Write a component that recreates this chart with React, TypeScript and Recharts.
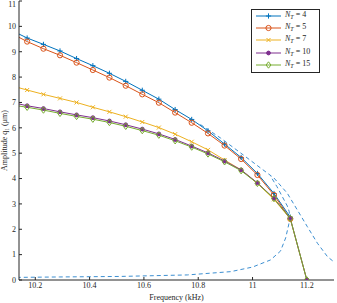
import React from "react";
import { Legend, Line, LineChart, XAxis, YAxis } from "recharts";

// marker frequencies (kHz), one every ~0.0606 kHz, last one sits at 11.2
const freqs = [
  10.109, 10.17, 10.23, 10.291, 10.352, 10.412, 10.473, 10.533, 10.594,
  10.655, 10.715, 10.776, 10.836, 10.897, 10.958, 11.018, 11.079, 11.139, 11.2,
];

const nt4 = [9.86, 9.54, 9.29, 9.03, 8.73, 8.45, 8.15, 7.83, 7.48, 7.13, 6.72, 6.33, 5.88, 5.36, 4.83, 4.2, 3.41, 2.48];
const nt5 = [9.74, 9.4, 9.12, 8.86, 8.57, 8.28, 7.98, 7.66, 7.32, 6.99, 6.6, 6.2, 5.78, 5.3, 4.77, 4.14, 3.35, 2.41];
const nt7 = [7.67, 7.49, 7.32, 7.16, 7.0, 6.81, 6.63, 6.44, 6.23, 6.01, 5.75, 5.45, 5.13, 4.73, 4.34, 3.81, 3.18, 2.41, 0];
const nt10 = [7.01, 6.87, 6.76, 6.63, 6.51, 6.4, 6.27, 6.12, 5.95, 5.76, 5.54, 5.28, 5.01, 4.69, 4.34, 3.83, 3.22, 2.43, 0];
const nt15 = [6.91, 6.81, 6.7, 6.57, 6.45, 6.34, 6.21, 6.06, 5.89, 5.71, 5.49, 5.24, 4.97, 4.66, 4.31, 3.81, 3.21, 2.43, 0];

// reference FRC, dashed: upper branch and lower + unstable branch
const upperF = [10.808, 10.882, 10.956, 11.029, 11.079, 11.128, 11.165, 11.202, 11.239, 11.276, 11.314];
const upperA = [6.13, 5.6, 5.01, 4.42, 4.02, 3.42, 2.76, 2.1, 1.45, 0.92, 0.59];
const lowerF = [10.106, 10.29, 10.51, 10.76, 10.92, 11.0, 11.066, 11.103, 11.122, 11.133, 11.137, 11.135, 11.128, 11.11, 11.09, 11.066];
const lowerA = [0.1, 0.12, 0.14, 0.2, 0.33, 0.51, 0.79, 1.14, 1.66, 2.17, 2.45, 2.7, 2.92, 3.28, 3.68, 4.1];

const xTicks = [10.2, 10.4, 10.6, 10.8, 11, 11.2];
const yTicks = [0, 1, 2, 3, 4, 5, 6, 7, 8, 9, 10, 11];

const toRows = (fs: number[], as: number[]) => as.map((a, i) => ({ f: fs[i], a }));

const FONT = "'Liberation Serif', 'Times New Roman', serif";
const AXIS = "#262626";

const series = [
  { name: "4", color: "#0072BD", marker: "plus", vals: nt4 },
  { name: "5", color: "#D95319", marker: "circle", vals: nt5 },
  { name: "7", color: "#EDB120", marker: "cross", vals: nt7 },
  { name: "10", color: "#7E2F8E", marker: "dot", vals: nt10 },
  { name: "15", color: "#77AC30", marker: "diamond", vals: nt15 },
];

function Marker({ kind, cx, cy, color }: { kind: string; cx: number; cy: number; color: string }) {
  const s = 2.6;
  if (kind === "plus")
    return (
      <g stroke={color} strokeWidth={1}>
        <line x1={cx - s} x2={cx + s} y1={cy} y2={cy} />
        <line x1={cx} x2={cx} y1={cy - s} y2={cy + s} />
      </g>
    );
  if (kind === "circle") return <circle cx={cx} cy={cy} r={2.6} fill="none" stroke={color} strokeWidth={1} />;
  if (kind === "cross")
    return (
      <g stroke={color} strokeWidth={1}>
        <line x1={cx - 2} x2={cx + 2} y1={cy - 2} y2={cy + 2} />
        <line x1={cx - 2} x2={cx + 2} y1={cy + 2} y2={cy - 2} />
      </g>
    );
  if (kind === "dot") return <circle cx={cx} cy={cy} r={1.9} fill={color} stroke={color} />;
  return (
    <polygon
      points={`${cx},${cy - 3.2} ${cx + 2.4},${cy} ${cx},${cy + 3.2} ${cx - 2.4},${cy}`}
      fill="none"
      stroke={color}
      strokeWidth={1}
    />
  );
}

const makeDot = (kind: string, color: string) => (props: any) => {
  const { cx, cy, index } = props;
  if (cx == null || cy == null) return <g key={`d${index}`} />;
  return (
    <g key={`d${index}`}>
      <Marker kind={kind} cx={cx} cy={cy} color={color} />
    </g>
  );
};

function LegendBox() {
  return (
    <div
      style={{
        width: 67,
        height: 62,
        border: `1px solid ${AXIS}`,
        background: "#fff",
        fontFamily: FONT,
        fontSize: 8,
        color: AXIS,
      }}
    >
      {series.map((s) => (
        <div key={s.name} style={{ display: "flex", alignItems: "center", height: 12.2, lineHeight: "12px" }}>
          <svg width={30} height={10} style={{ flex: "none" }}>
            <line x1={4} x2={29} y1={5} y2={5} stroke={s.color} strokeWidth={1} />
            <Marker kind={s.marker} cx={16.5} cy={5} color={s.color} />
          </svg>
          <span style={{ marginLeft: 3, whiteSpace: "nowrap" }}>
            <i>N</i>
            <sub style={{ fontSize: 6, verticalAlign: "-2px" }}>
              <i>T</i>
            </sub>{" "}
            = {s.name}
          </span>
        </div>
      ))}
    </div>
  );
}

export default function App() {
  return (
    <div style={{ position: "absolute", left: 0, top: 0, background: "#fff" }}>
      <LineChart width={337} height={303} margin={{ top: 1, right: 3, bottom: 0, left: 0 }}>
        <XAxis
          type="number"
          dataKey="f"
          domain={[10.14, 11.3]}
          ticks={xTicks}
          allowDataOverflow
          height={23}
          tickSize={-3}
          tickMargin={5}
          stroke={AXIS}
          tick={{ fill: AXIS, fontSize: 8, fontFamily: FONT }}
          label={{
            value: "Frequency (kHz)",
            position: "insideBottom",
            offset: 3,
            fill: AXIS,
            fontSize: 8,
            fontFamily: FONT,
          }}
        />
        <YAxis
          type="number"
          domain={[0, 11]}
          ticks={yTicks}
          allowDataOverflow
          width={19}
          tickSize={-3}
          tickMargin={6}
          stroke={AXIS}
          tick={{ fill: AXIS, fontSize: 8, fontFamily: FONT }}
          label={{
            value: "Amplitude q₁ (μm)",
            angle: -90,
            position: "insideLeft",
            offset: 4,
            fill: AXIS,
            fontSize: 8,
            fontFamily: FONT,
            style: { textAnchor: "middle" },
          }}
        />
        <Line
          data={toRows(upperF, upperA)}
          dataKey="a"
          type="linear"
          stroke="#3D8FD1"
          strokeWidth={1}
          strokeDasharray="4 3"
          dot={false}
          isAnimationActive={false}
          legendType="none"
        />
        <Line
          data={toRows(lowerF, lowerA)}
          dataKey="a"
          type="linear"
          stroke="#3D8FD1"
          strokeWidth={1}
          strokeDasharray="4 3"
          dot={false}
          isAnimationActive={false}
          legendType="none"
        />
        {series.map((s) => (
          <Line
            key={s.name}
            data={toRows(freqs, s.vals)}
            dataKey="a"
            name={s.name}
            type="linear"
            stroke={s.color}
            strokeWidth={1}
            dot={makeDot(s.marker, s.color)}
            isAnimationActive={false}
          />
        ))}
        <Legend
          layout="horizontal"
          verticalAlign="middle"
          align="center"
          content={() => <LegendBox />}
          wrapperStyle={{ top: 9, left: 251, width: 69, height: 64 }}
        />
      </LineChart>
    </div>
  );
}
